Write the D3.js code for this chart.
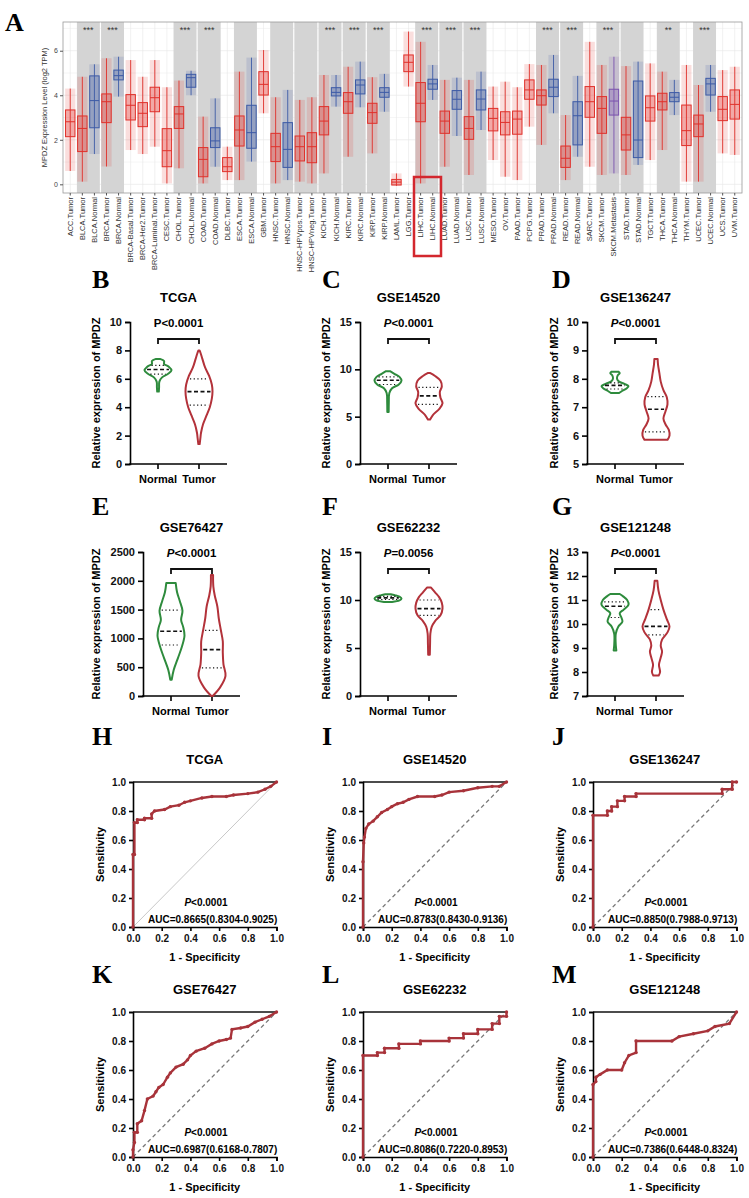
<!DOCTYPE html>
<html>
<head>
<meta charset="utf-8">
<script src="https://cdn.jsdelivr.net/npm/d3@7"></script>
<style>
  body { margin: 0; background: #fff; }
  svg { display: block; }
</style>
</head>
<body>
<svg id="fig" width="749" height="1198"></svg>
<script>
// ---------- Panel A data (TIMER style pan-cancer boxplot) ----------
var tcgaGroups = ["ACC.Tumor","BLCA.Tumor","BLCA.Normal","BRCA.Tumor","BRCA.Normal","BRCA-Basal.Tumor",
  "BRCA-Her2.Tumor","BRCA-Luminal.Tumor","CESC.Tumor","CHOL.Tumor","CHOL.Normal","COAD.Tumor","COAD.Normal",
  "DLBC.Tumor","ESCA.Tumor","ESCA.Normal","GBM.Tumor","HNSC.Tumor","HNSC.Normal","HNSC-HPVpos.Tumor",
  "HNSC-HPVneg.Tumor","KICH.Tumor","KICH.Normal","KIRC.Tumor","KIRC.Normal","KIRP.Tumor","KIRP.Normal",
  "LAML.Tumor","LGG.Tumor","LIHC.Tumor","LIHC.Normal","LUAD.Tumor","LUAD.Normal","LUSC.Tumor","LUSC.Normal",
  "MESO.Tumor","OV.Tumor","PAAD.Tumor","PCPG.Tumor","PRAD.Tumor","PRAD.Normal","READ.Tumor","READ.Normal",
  "SARC.Tumor","SKCM.Tumor","SKCM.Metastasis","STAD.Tumor","STAD.Normal","TGCT.Tumor","THCA.Tumor",
  "THCA.Normal","THYM.Tumor","UCEC.Tumor","UCEC.Normal","UCS.Tumor","UVM.Tumor"];
// [whisker low, q1, median, q3, whisker high], log2 TPM
var tcgaStats = [
  [0.6,2.14,2.81,3.34,4.3],[0.12,1.47,2.51,3.07,4.83],[1.36,2.54,3.76,4.87,5.39],[0.8,2.77,3.71,4.06,5.66],
  [3.94,4.69,4.88,5.13,5.73],[1.54,2.89,3.55,4.03,5.58],[1.36,2.59,3.19,3.67,4.83],[1.69,3.26,3.89,4.36,5.58],
  [0.04,0.79,1.51,2.5,4.36],[0.72,2.51,3.16,3.49,4.66],[4.0,4.36,4.79,4.94,5.1],[0.04,0.34,1.12,1.65,3.04],
  [0.79,1.65,1.95,2.54,3.86],[0.19,0.57,0.79,1.2,1.69],[0.19,1.72,2.44,3.07,5.06],[1.02,1.62,2.32,3.55,5.69],
  [3.19,4.01,4.49,5.06,6.03],[0.04,1.02,1.69,2.29,3.91],[0.19,0.76,1.57,2.77,4.24],[0.12,1.05,1.69,2.17,3.79],
  [0.04,0.97,1.69,2.32,3.91],[0.49,2.22,2.84,3.49,4.91],[3.49,3.97,4.13,4.34,4.91],[1.24,3.19,3.71,4.12,5.28],
  [3.46,4.06,4.46,4.69,5.51],[1.39,2.74,3.22,3.64,4.81],[3.26,3.91,4.13,4.34,4.96],[-0.07,-0.03,0.1,0.22,0.49],
  [4.39,5.06,5.48,5.81,6.86],[0.04,2.81,3.64,4.57,6.4],[3.79,4.27,4.51,4.72,5.36],[0.79,2.29,2.84,3.29,4.69],
  [2.17,3.37,3.82,4.21,4.79],[0.42,2.02,2.51,3.04,4.69],[2.44,3.34,3.83,4.24,5.06],[1.09,2.4,2.96,3.41,4.39],
  [0.34,2.22,2.78,3.26,4.61],[0.19,2.25,2.93,3.29,4.36],[2.59,3.82,4.24,4.69,5.4],[1.77,3.56,3.98,4.24,5.36],
  [3.19,3.94,4.36,4.72,5.81],[0.19,0.76,1.17,1.72,3.11],[1.24,1.77,3.08,3.71,4.87],[0.79,3.01,3.71,4.39,6.4],
  [0.42,2.29,3.41,3.94,5.36],[0.49,3.11,3.74,4.27,5.73],[0.42,1.54,2.22,3.01,5.31],[0.87,1.2,1.99,4.64,5.51],
  [1.09,2.84,3.44,3.97,5.43],[1.54,3.34,3.71,4.09,5.06],[3.11,3.71,3.91,4.12,4.69],[0.12,1.74,2.41,3.56,5.36],
  [0.12,2.14,2.71,3.11,4.46],[3.26,4.01,4.51,4.76,5.36],[1.39,2.86,3.37,3.94,5.13],[1.32,2.93,3.59,4.24,5.28]];
// cancer types that have normal tissue (grey background)
var grayTypes = ["BLCA","BRCA","CHOL","COAD","ESCA","HNSC","HNSC-HPV","KICH","KIRC","KIRP","LIHC","LUAD",
  "LUSC","PRAD","READ","SKCM","STAD","THCA","UCEC"];
var starTypes = ["BLCA","BRCA","CHOL","COAD","KICH","KIRC","KIRP","LIHC","LUAD","LUSC","PRAD","READ","SKCM","THCA","UCEC"];
var starMarks = ["***","***","***","***","***","***","***","***","***","***","***","***","***","**","***"];
var aTicks = [0, 2, 4, 6];

// ---------- Violin panels (B-G) ----------
var violinTitles = ["TCGA","GSE14520","GSE136247","GSE76427","GSE62232","GSE121248"];
var violinPText = ["<0.0001","<0.0001","<0.0001","<0.0001","=0.0056","<0.0001"];
var violinDomains = [[0,10],[0,15],[5,10],[0,2500],[0,15],[7,13]];
var violinTicks = [[0,2,4,6,8,10],[0,5,10,15],[5,6,7,8,9,10],[0,500,1000,1500,2000,2500],[0,5,10,15],[7,8,9,10,11,12,13]];
// outline of each violin: [value, relative half width]
var normalShapes = [
  [[5.1,0.06],[5.4,0.08],[5.8,0.1],[6.1,0.3],[6.35,0.75],[6.6,1.0],[6.85,0.8],[7.05,0.45],[7.25,0.45],[7.4,0.15]],
  [[5.5,0.05],[6.5,0.06],[7.5,0.1],[8.0,0.3],[8.4,0.8],[8.8,1.0],[9.2,0.85],[9.5,0.5],[9.8,0.15]],
  [[7.5,0.3],[7.58,0.55],[7.66,0.85],[7.74,1.0],[7.82,0.7],[7.9,0.3],[8.0,0.15],[8.12,0.2],[8.2,0.35],[8.25,0.25]],
  [[280,0.05],[450,0.2],[650,0.5],[850,0.8],[1050,1.0],[1200,0.9],[1320,0.75],[1480,0.85],[1650,0.65],[1800,0.45],[1960,0.35]],
  [[9.8,0.3],[9.95,0.85],[10.15,1.0],[10.35,0.85],[10.5,0.5],[10.6,0.2]],
  [[8.9,0.1],[9.1,0.06],[9.6,0.06],[9.9,0.25],[10.1,0.55],[10.3,0.45],[10.45,0.35],[10.6,0.65],[10.8,1.0],[11.0,0.9],[11.15,0.6],[11.25,0.35]]];
var tumorShapes = [
  [[1.4,0.05],[1.8,0.1],[2.2,0.15],[2.8,0.3],[3.4,0.55],[4.0,0.8],[4.6,0.95],[5.1,1.0],[5.6,0.95],[6.2,0.75],[6.8,0.45],[7.4,0.25],[7.8,0.12],[8.0,0.04]],
  [[4.7,0.08],[5.2,0.3],[5.8,0.75],[6.4,1.0],[7.0,0.85],[7.6,0.8],[8.2,0.95],[8.8,0.85],[9.3,0.45],[9.6,0.1]],
  [[5.85,0.85],[6.0,1.0],[6.2,0.95],[6.4,0.7],[6.6,0.55],[6.85,0.7],[7.1,0.85],[7.35,0.8],[7.6,0.55],[7.9,0.35],[8.2,0.25],[8.5,0.15],[8.7,0.12]],
  [[0,0.05],[150,0.6],[350,1.0],[550,0.85],[750,0.8],[950,0.8],[1150,0.65],[1350,0.5],[1550,0.4],[1750,0.2],[1900,0.1],[2100,0.08]],
  [[4.3,0.06],[5.5,0.08],[6.5,0.1],[7.2,0.2],[7.8,0.45],[8.4,0.85],[9.1,1.0],[9.7,0.95],[10.3,0.75],[10.8,0.45],[11.3,0.15]],
  [[7.85,0.2],[8.0,0.3],[8.3,0.22],[8.6,0.35],[8.85,0.45],[9.1,0.35],[9.35,0.45],[9.65,0.85],[9.9,1.0],[10.2,0.8],[10.6,0.55],[11.0,0.35],[11.4,0.18],[11.8,0.1]]];
// [q1, median, q3]
var normalQuart = [[6.33,6.65,6.95],[8.4,8.85,9.2],[7.64,7.77,7.86],[885,1125,1490],[10.05,10.22,10.38],[10.27,10.74,10.92]];
var tumorQuart = [[4.15,5.1,6.0],[6.3,7.2,8.1],[6.13,6.93,7.37],[490,805,1140],[8.4,9.1,10.0],[9.55,9.9,10.6]];

// ---------- ROC panels (H-M) ----------
var rocTitles = ["TCGA","GSE14520","GSE136247","GSE76427","GSE62232","GSE121248"];
var rocAuc = ["AUC=0.8665(0.8304-0.9025)","AUC=0.8783(0.8430-0.9136)","AUC=0.8850(0.7988-0.9713)",
  "AUC=0.6987(0.6168-0.7807)","AUC=0.8086(0.7220-0.8953)","AUC=0.7386(0.6448-0.8324)"];
// [1 - specificity, sensitivity]
var rocCurves = [
  [[0,0],[0,0.5],[0.01,0.5],[0.01,0.72],[0.03,0.72],[0.03,0.74],[0.08,0.74],[0.08,0.75],[0.13,0.75],[0.13,0.78],[0.15,0.8],[0.22,0.81],[0.26,0.83],[0.32,0.84],[0.36,0.86],[0.4,0.87],[0.48,0.89],[0.55,0.9],[0.65,0.9],[0.7,0.91],[0.8,0.92],[0.87,0.93],[0.92,0.95],[0.96,0.97],[1,1]],
  [[0,0],[0,0.45],[0.005,0.58],[0.01,0.62],[0.02,0.68],[0.04,0.71],[0.07,0.73],[0.1,0.76],[0.13,0.79],[0.17,0.81],[0.2,0.83],[0.24,0.85],[0.28,0.86],[0.32,0.88],[0.38,0.9],[0.5,0.9],[0.55,0.91],[0.6,0.93],[0.7,0.94],[0.8,0.96],[0.9,0.97],[0.95,0.97],[1,1]],
  [[0,0],[0,0.77],[0.1,0.77],[0.1,0.8],[0.13,0.8],[0.13,0.83],[0.17,0.83],[0.17,0.87],[0.22,0.87],[0.22,0.9],[0.3,0.9],[0.3,0.92],[0.9,0.92],[0.9,0.95],[0.97,0.95],[0.97,1],[1,1]],
  [[0,0],[0,0.05],[0.01,0.1],[0.01,0.17],[0.03,0.17],[0.03,0.23],[0.06,0.25],[0.08,0.32],[0.1,0.4],[0.14,0.42],[0.16,0.45],[0.18,0.48],[0.21,0.5],[0.24,0.55],[0.26,0.58],[0.3,0.62],[0.35,0.64],[0.38,0.67],[0.4,0.7],[0.44,0.73],[0.5,0.75],[0.55,0.78],[0.6,0.8],[0.65,0.81],[0.68,0.82],[0.69,0.88],[0.75,0.89],[0.8,0.9],[0.85,0.93],[0.9,0.95],[0.95,0.97],[1,1]],
  [[0,0],[0,0.7],[0.1,0.7],[0.1,0.72],[0.15,0.72],[0.15,0.75],[0.25,0.75],[0.25,0.78],[0.4,0.78],[0.4,0.8],[0.6,0.8],[0.6,0.82],[0.7,0.82],[0.7,0.85],[0.8,0.85],[0.8,0.88],[0.9,0.88],[0.9,0.92],[0.95,0.92],[0.95,0.97],[1,0.97],[1,1]],
  [[0,0],[0,0.5],[0.02,0.52],[0.02,0.55],[0.05,0.57],[0.1,0.6],[0.2,0.6],[0.22,0.65],[0.25,0.7],[0.3,0.72],[0.3,0.8],[0.55,0.8],[0.6,0.83],[0.7,0.85],[0.8,0.87],[0.85,0.9],[0.95,0.92],[1,1]]];
var rocTicks = [0, 0.2, 0.4, 0.6, 0.8, 1.0];

var SANS = "'Liberation Sans', Arial, sans-serif";
var SERIF = "'Liberation Serif', 'Times New Roman', serif";
var svg = d3.select("#fig");

//Panel letters
function letter(txt, x, y) {
  svg.append("text")
     .text(txt)
     .attr("x", x)
     .attr("y", y)
     .style("font-family", SERIF)
     .style("font-weight", "bold")
     .style("font-size", "26px");
}

// ================= Panel A =================
function drawPanelA() {
  var left = 63, right = 742, top = 22, bottom = 193;
  var g = svg.append("g");
  var x = d3.scalePoint().domain(tcgaGroups).range([left, right]).padding(0.6);
  var y = d3.scaleLinear().domain([-0.39, 7.29]).range([bottom, top]);
  var step = x.step();

  function typeKey(label) {
    var t = label.split(".")[0];
    return t.indexOf("HNSC-HPV") == 0 ? "HNSC-HPV" : t;
  }
  function colorOf(label) {
    if (label.indexOf("Normal") > 0) return "#3c5aa6";
    if (label.indexOf("Metastasis") > 0) return "#7b52ae";
    return "#e0302a";
  }

  //light grid
  d3.range(0, 8).forEach(function(v) {
    g.append("line")
       .attr("x1", left).attr("x2", right)
       .attr("y1", y(v)).attr("y2", y(v))
       .style("stroke", v % 2 == 0 ? "#e4e4e4" : "#f0f0f0")
       .style("stroke-width", 0.6);
  });
  tcgaGroups.forEach(function(d) {
    g.append("line")
       .attr("x1", x(d)).attr("x2", x(d))
       .attr("y1", top).attr("y2", bottom)
       .style("stroke", "#e8e8e8")
       .style("stroke-width", 0.6);
  });

  //group consecutive categories by cancer type
  var runs = [];
  tcgaGroups.forEach(function(d) {
    var k = typeKey(d);
    if (runs.length && runs[runs.length - 1].key == k) runs[runs.length - 1].members.push(d);
    else runs.push({key: k, members: [d]});
  });
  runs.forEach(function(r) {
    var x0 = x(r.members[0]) - step / 2;
    var x1 = x(r.members[r.members.length - 1]) + step / 2;
    if (grayTypes.indexOf(r.key) >= 0) {
      g.append("rect")
         .attr("x", x0 + 0.6)
         .attr("y", top)
         .attr("width", x1 - x0 - 1.2)
         .attr("height", bottom - top)
         .style("fill", "#d4d4d4");
    }
    var si = starTypes.indexOf(r.key);
    if (si >= 0) {
      g.append("text")
         .text(starMarks[si])
         .attr("x", (x0 + x1) / 2)
         .attr("y", 33)
         .attr("text-anchor", "middle")
         .style("font-family", SANS)
         .style("font-size", "9px")
         .style("fill", "#333");
    }
  });

  //boxes with a faint cloud standing in for the jittered points
  var bw = step * 0.78;
  tcgaGroups.forEach(function(d, i) {
    var s = tcgaStats[i], c = colorOf(d), cx = x(d);
    g.append("rect")
       .attr("x", cx - step * 0.42)
       .attr("y", y(s[4]))
       .attr("width", step * 0.84)
       .attr("height", y(s[0]) - y(s[4]))
       .style("fill", c)
       .style("opacity", 0.16);
    g.append("line")
       .attr("x1", cx).attr("x2", cx)
       .attr("y1", y(s[0])).attr("y2", y(s[4]))
       .style("stroke", c)
       .style("stroke-width", 0.9);
    g.append("rect")
       .attr("x", cx - bw / 2)
       .attr("y", y(s[3]))
       .attr("width", bw)
       .attr("height", Math.max(1, y(s[1]) - y(s[3])))
       .style("fill", d3.color(c).copy({opacity: 0.3}))
       .style("stroke", c)
       .style("stroke-width", 1);
    g.append("line")
       .attr("x1", cx - bw / 2).attr("x2", cx + bw / 2)
       .attr("y1", y(s[2])).attr("y2", y(s[2]))
       .style("stroke", c)
       .style("stroke-width", 1);
  });

  //panel border
  g.append("rect")
     .attr("x", left).attr("y", top)
     .attr("width", right - left).attr("height", bottom - top)
     .style("fill", "none")
     .style("stroke", "#9a9a9a")
     .style("stroke-width", 0.8);

  //y axis
  var ay = g.append("g")
     .attr("transform", "translate(" + left + ",0)")
     .call(d3.axisLeft(y).tickValues(aTicks).tickSize(3).tickPadding(2));
  ay.select(".domain").remove();
  ay.selectAll("line").style("stroke", "#555");
  ay.selectAll("text").style("font-family", SANS).style("font-size", "7px").style("fill", "#444");
  g.append("text")
     .text("MPDZ Expression Level (log2 TPM)")
     .attr("transform", "translate(47," + ((top + bottom) / 2) + ") rotate(-90)")
     .attr("text-anchor", "middle")
     .style("font-family", SANS)
     .style("font-size", "7.5px")
     .style("fill", "#333");

  //x labels
  tcgaGroups.forEach(function(d) {
    g.append("line")
       .attr("x1", x(d)).attr("x2", x(d))
       .attr("y1", bottom).attr("y2", bottom + 2.5)
       .style("stroke", "#555");
    g.append("text")
       .text(d)
       .attr("transform", "translate(" + (x(d) + 2.5) + "," + (bottom + 4) + ") rotate(-90)")
       .attr("text-anchor", "end")
       .style("font-family", SANS)
       .style("font-size", "7.5px")
       .style("fill", "#333");
  });

  //highlight box around LIHC
  g.append("rect")
     .attr("x", 414).attr("y", 177)
     .attr("width", 27).attr("height", 79)
     .style("fill", "none")
     .style("stroke", "#d3272e")
     .style("stroke-width", 2.5);
}

// ================= Violin panels =================
function widthAt(shape, v) {
  for (var i = 0; i < shape.length - 1; i++) {
    if (v >= shape[i][0] && v <= shape[i + 1][0]) {
      var t = (v - shape[i][0]) / (shape[i + 1][0] - shape[i][0]);
      return shape[i][1] + t * (shape[i + 1][1] - shape[i][1]);
    }
  }
  return 0;
}

function drawViolin(i, axisX, yTop, yBot, labelX) {
  var g = svg.append("g");
  var y = d3.scaleLinear().domain(violinDomains[i]).range([yBot, yTop]);
  var axisW = 97;
  var xN = axisX + 28, xT = axisX + 69;
  var half = 13.5;
  var mid = axisX + axisW / 2;

  g.append("text")
     .text(violinTitles[i])
     .attr("x", mid).attr("y", yTop - 20)
     .attr("text-anchor", "middle")
     .style("font-family", SANS).style("font-weight", "bold").style("font-size", "13px");

  var p = g.append("text")
     .attr("x", (xN + xT) / 2).attr("y", yTop + 5)
     .attr("text-anchor", "middle")
     .style("font-family", SANS).style("font-weight", "bold").style("font-size", "11.5px");
  p.append("tspan").text("P").style("font-style", i == 0 ? "normal" : "italic");
  p.append("tspan").text(violinPText[i]);

  //significance bracket
  var by = yTop + 17;
  g.append("path")
     .attr("d", "M" + xN + "," + (by + 5) + "V" + by + "H" + xT + "V" + (by + 5))
     .style("fill", "none").style("stroke", "#111").style("stroke-width", 1.8);

  //axes
  var ay = g.append("g")
     .attr("transform", "translate(" + axisX + ",0)")
     .call(d3.axisLeft(y).tickValues(violinTicks[i]).tickSize(5).tickPadding(3).tickFormat(d3.format("d")));
  ay.select(".domain").style("stroke-width", 1.6);
  ay.selectAll("line").style("stroke-width", 1.6);
  ay.selectAll("text").style("font-family", SANS).style("font-weight", "bold").style("font-size", "11px").style("fill", "#111");
  g.append("line")
     .attr("x1", axisX - 0.8).attr("x2", axisX + axisW)
     .attr("y1", yBot).attr("y2", yBot)
     .style("stroke", "#000").style("stroke-width", 1.6);
  [[xN, "Normal"], [xT, "Tumor"]].forEach(function(t) {
    g.append("line")
       .attr("x1", t[0]).attr("x2", t[0])
       .attr("y1", yBot).attr("y2", yBot + 5)
       .style("stroke", "#000").style("stroke-width", 1.6);
    g.append("text")
       .text(t[1])
       .attr("x", t[0]).attr("y", yBot + 19)
       .attr("text-anchor", "middle")
       .style("font-family", SANS).style("font-weight", "bold").style("font-size", "11px");
  });
  g.append("text")
     .text("Relative expression of MPDZ")
     .attr("transform", "translate(" + labelX + "," + ((yTop + yBot) / 2) + ") rotate(-90)")
     .attr("text-anchor", "middle")
     .style("font-family", SANS).style("font-weight", "bold").style("font-size", "11px");

  //violins
  [[xN, normalShapes[i], normalQuart[i], "#2e8b3d"], [xT, tumorShapes[i], tumorQuart[i], "#b3323a"]].forEach(function(v) {
    var cx = v[0], shape = v[1], q = v[2];
    var area = d3.area()
       .curve(d3.curveCatmullRom)
       .y(function(d) { return y(d[0]); })
       .x0(function(d) { return cx - half * d[1]; })
       .x1(function(d) { return cx + half * d[1]; });
    g.append("path")
       .attr("d", area(shape))
       .style("fill", "#fff")
       .style("stroke", v[3])
       .style("stroke-width", 2)
       .style("stroke-linejoin", "round");
    q.forEach(function(val, k) {
      var w = half * widthAt(shape, val) - 2;
      g.append("line")
         .attr("x1", cx - w).attr("x2", cx + w)
         .attr("y1", y(val)).attr("y2", y(val))
         .style("stroke", "#111")
         .style("stroke-width", k == 1 ? 1.6 : 1.2)
         .style("stroke-dasharray", k == 1 ? "4,2.5" : "1.2,2.5");
    });
  });
}

// ================= ROC panels =================
function drawRoc(i, axisX, yTop, yBot) {
  var g = svg.append("g");
  var w = 143.5;
  var x = d3.scaleLinear().domain([0, 1]).range([axisX, axisX + w]);
  var y = d3.scaleLinear().domain([0, 1]).range([yBot, yTop]);

  g.append("text")
     .text(rocTitles[i])
     .attr("x", axisX + w / 2).attr("y", yTop - 18)
     .attr("text-anchor", "middle")
     .style("font-family", SANS).style("font-weight", "bold").style("font-size", "13px");

  //reference diagonal
  g.append("line")
     .attr("x1", x(0)).attr("y1", y(0)).attr("x2", x(1)).attr("y2", y(1))
     .style("stroke", i == 0 ? "#c8c8c8" : "#777")
     .style("stroke-width", i == 0 ? 1 : 1.3)
     .style("stroke-dasharray", i == 0 ? null : "4,3");

  //top frame line
  g.append("line")
     .attr("x1", x(0)).attr("x2", x(1))
     .attr("y1", y(1)).attr("y2", y(1))
     .style("stroke", "#111").style("stroke-width", 1.6);

  var ax = g.append("g")
     .attr("transform", "translate(0," + yBot + ")")
     .call(d3.axisBottom(x).tickValues(rocTicks).tickSize(4).tickPadding(4).tickFormat(d3.format(".1f")));
  var ay = g.append("g")
     .attr("transform", "translate(" + axisX + ",0)")
     .call(d3.axisLeft(y).tickValues(rocTicks).tickSize(4).tickPadding(3).tickFormat(d3.format(".1f")));
  [ax, ay].forEach(function(a) {
    a.select(".domain").style("stroke-width", 1.6);
    a.selectAll("line").style("stroke-width", 1.6);
    a.selectAll("text").style("font-family", SANS).style("font-weight", "bold").style("font-size", "10px").style("fill", "#111");
  });

  var line = d3.line()
     .x(function(d) { return x(d[0]); })
     .y(function(d) { return y(d[1]); });
  g.append("path")
     .attr("d", line(rocCurves[i]))
     .style("fill", "none")
     .style("stroke", "#a8333a")
     .style("stroke-width", 2.4);
  g.selectAll(".pt")
     .data(rocCurves[i])
     .enter()
     .append("circle")
     .attr("cx", function(d) { return x(d[0]); })
     .attr("cy", function(d) { return y(d[1]); })
     .attr("r", 1.7)
     .style("fill", "#a8333a");

  var p = g.append("text")
     .attr("x", axisX + 73).attr("y", yBot - 21)
     .attr("text-anchor", "middle")
     .style("font-family", SANS).style("font-weight", "bold").style("font-size", "10px");
  p.append("tspan").text("P").style("font-style", "italic");
  p.append("tspan").text("<0.0001");
  g.append("text")
     .text(rocAuc[i])
     .attr("x", axisX + 15).attr("y", yBot - 4)
     .style("font-family", SANS).style("font-weight", "bold").style("font-size", "10px");

  g.append("text")
     .text("Sensitivity")
     .attr("transform", "translate(" + (axisX - 29) + "," + ((yTop + yBot) / 2) + ") rotate(-90)")
     .attr("text-anchor", "middle")
     .style("font-family", SANS).style("font-weight", "bold").style("font-size", "11px");
  g.append("text")
     .text("1 - Specificity")
     .attr("x", axisX + w / 2).attr("y", yBot + 34)
     .attr("text-anchor", "middle")
     .style("font-family", SANS).style("font-weight", "bold").style("font-size", "11px");
}

drawPanelA();
letter("A", 5, 31);

var violinAxisX = [130, 360, 587, 143, 360, 587];
var violinLabelX = [100, 330, 558, 100, 330, 558];
var violinRows = [[322, 464], [552, 696]];
var letterX = [92, 322, 552];
violinTitles.forEach(function(t, i) {
  var r = violinRows[Math.floor(i / 3)];
  drawViolin(i, violinAxisX[i], r[0], r[1], violinLabelX[i]);
});
["B","C","D"].forEach(function(l, i) { letter(l, letterX[i], 288); });
["E","F","G"].forEach(function(l, i) { letter(l, letterX[i], 515); });

var rocAxisX = [133, 363, 593, 133, 363, 593];
var rocRows = [[782, 927], [1012, 1157]];
rocTitles.forEach(function(t, i) {
  var r = rocRows[Math.floor(i / 3)];
  drawRoc(i, rocAxisX[i], r[0], r[1]);
});
["H","I","J"].forEach(function(l, i) { letter(l, letterX[i], 745); });
["K","L","M"].forEach(function(l, i) { letter(l, letterX[i], 983); });
</script>
</body>
</html>
